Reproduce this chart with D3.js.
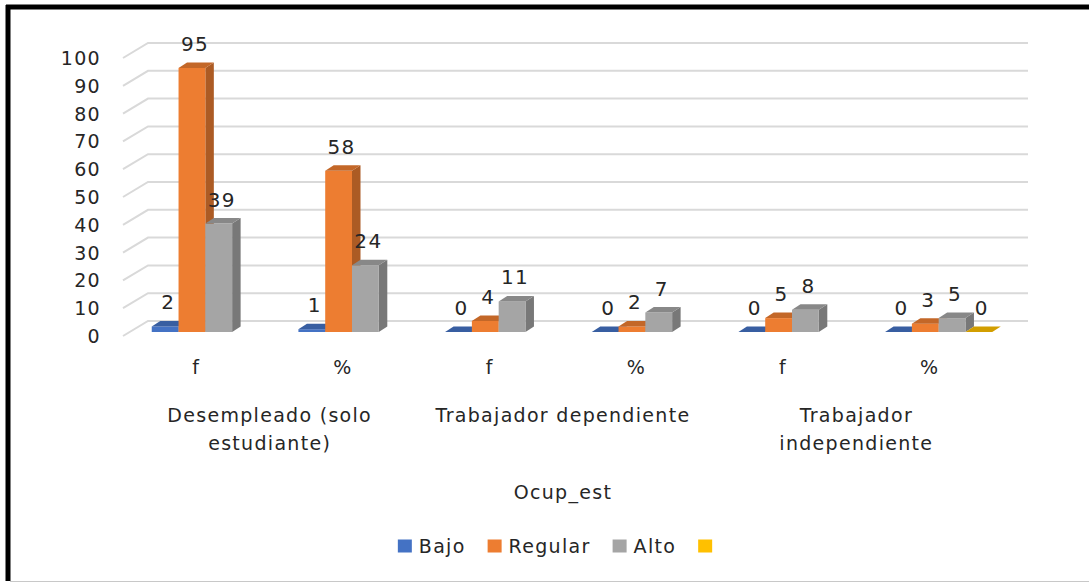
<!DOCTYPE html>
<html>
<head>
<meta charset="utf-8">
<script src="https://cdn.jsdelivr.net/npm/d3@7"></script>
<style>
  body { margin: 0; background: #fff; }
  text { font-family: "DejaVu Sans", sans-serif; fill: #262626; letter-spacing: 1.3px; }
</style>
</head>
<body>
<div id="chart"></div>
<script>
// data
const groupLines = [["Desempleado (solo", "estudiante)"], ["Trabajador dependiente"], ["Trabajador", "independiente"]];
const measures = ["f", "%", "f", "%", "f", "%"];
const series = ["Bajo", "Regular", "Alto", ""];
const bajo = [2, 1, 0, 0, 0, 0];
const regular = [95, 58, 4, 2, 5, 3];
const alto = [39, 24, 11, 7, 8, 5];
const extra = [null, null, null, null, null, 0];
const yTicks = [0, 10, 20, 30, 40, 50, 60, 70, 80, 90, 100];
const colors = ["#4472C4", "#ED7D31", "#A5A5A5", "#FFC000"];

const values = [bajo, regular, alto, extra];

const width = 1089, height = 583;
const floorDepth = [25, -15];   // front edge of floor -> back wall
const barShift = [9, -4];       // where the bar fronts sit inside the floor
const barDepth = [8.5, -5.5];   // depth of each bar

const svg = d3.select("#chart").append("svg")
    .attr("width", width)
    .attr("height", height);

// frame
svg.append("line").attr("x1", 6).attr("x2", width).attr("y1", 7).attr("y2", 7)
    .attr("stroke", "#000").attr("stroke-width", 5);
svg.append("line").attr("x1", 8).attr("x2", 8).attr("y1", 5).attr("y2", 581)
    .attr("stroke", "#000").attr("stroke-width", 5);
svg.append("line").attr("x1", 10).attr("x2", width).attr("y1", 581.5).attr("y2", 581.5)
    .attr("stroke", "#c8c8c8").attr("stroke-width", 1);

const x0 = d3.scaleBand()
    .domain(d3.range(measures.length))
    .range([123, 1003]);

const x1 = d3.scaleBand()
    .domain(d3.range(series.length))
    .range([0, x0.bandwidth()])
    .paddingOuter(0.737);

const y = d3.scaleLinear()
    .domain([0, 100])
    .range([336, 58]);

// gridlines: diagonal side wall + back wall
const grid = svg.append("g").attr("stroke", "#d9d9d9").attr("stroke-width", 2).attr("fill", "none");
yTicks.forEach(t => {
    const yf = y(t);
    grid.append("path")
        .attr("d", `M${x0.range()[0]},${yf} L${x0.range()[0] + floorDepth[0]},${yf + floorDepth[1]} L${x0.range()[1] + floorDepth[0]},${yf + floorDepth[1]}`);
});

// y tick labels
svg.append("g").selectAll("text")
    .data(yTicks)
  .enter().append("text")
    .attr("x", 101)
    .attr("y", d => y(d))
    .attr("text-anchor", "end")
    .attr("dominant-baseline", "central")
    .style("font-size", "19px")
    .text(d => d);

// bars
const bars = svg.append("g");
const labels = svg.append("g");
measures.forEach((m, i) => {
    series.forEach((s, k) => {
        const v = values[k][i];
        if (v === null) return;
        const w = x1.bandwidth();
        const x = x0(i) + x1(k) + barShift[0];
        const base = y(0) + barShift[1];
        const top = y(v) + barShift[1];
        const [dx, dy] = barDepth;
        const c = d3.color(colors[k]);

        // side
        bars.append("path")
            .attr("d", `M${x + w},${top} L${x + w + dx},${top + dy} L${x + w + dx},${base + dy} L${x + w},${base} Z`)
            .attr("fill", c.darker(0.9));
        // front
        bars.append("rect")
            .attr("x", x).attr("y", top)
            .attr("width", w).attr("height", base - top)
            .attr("fill", c);
        // top
        bars.append("path")
            .attr("d", `M${x},${top} L${x + dx},${top + dy} L${x + w + dx},${top + dy} L${x + w},${top} Z`)
            .attr("fill", c.darker(0.55));

        labels.append("text")
            .attr("x", x + w / 2 + 3)
            .attr("y", top - 24)
            .attr("text-anchor", "middle")
            .attr("dominant-baseline", "central")
            .style("font-size", "20px")
            .text(v);
    });
});

// category labels
svg.append("g").selectAll("text")
    .data(measures)
  .enter().append("text")
    .attr("x", (d, i) => x0(i) + x0.bandwidth() / 2)
    .attr("y", 367)
    .attr("text-anchor", "middle")
    .attr("dominant-baseline", "central")
    .style("font-size", "19px")
    .text(d => d);

groupLines.forEach((lines, g) => {
    const cx = x0(g * 2) + x0.bandwidth();
    lines.forEach((ln, j) => {
        svg.append("text")
            .attr("x", cx)
            .attr("y", 415 + j * 28)
            .attr("text-anchor", "middle")
            .attr("dominant-baseline", "central")
            .style("font-size", "19px")
            .text(ln);
    });
});

// axis title
svg.append("text")
    .attr("x", (x0.range()[0] + x0.range()[1]) / 2)
    .attr("y", 492)
    .attr("text-anchor", "middle")
    .attr("dominant-baseline", "central")
    .style("font-size", "19px")
    .text("Ocup_est");

// legend
const legend = svg.append("g");
let lx = 0;
series.forEach((s, k) => {
    const item = legend.append("g").attr("transform", `translate(${lx},0)`);
    item.append("rect")
        .attr("x", 0).attr("y", -6.5)
        .attr("width", 14).attr("height", 13)
        .attr("fill", colors[k]);
    const t = item.append("text")
        .attr("x", 21)
        .attr("y", 0)
        .attr("dominant-baseline", "central")
        .style("font-size", "19px")
        .text(s);
    lx += 21 + (s ? t.node().getComputedTextLength() : 0) + 22;
});
const legendWidth = lx - 22 - 7;
legend.attr("transform", `translate(${555 - legendWidth / 2},546)`);
</script>
</body>
</html>
